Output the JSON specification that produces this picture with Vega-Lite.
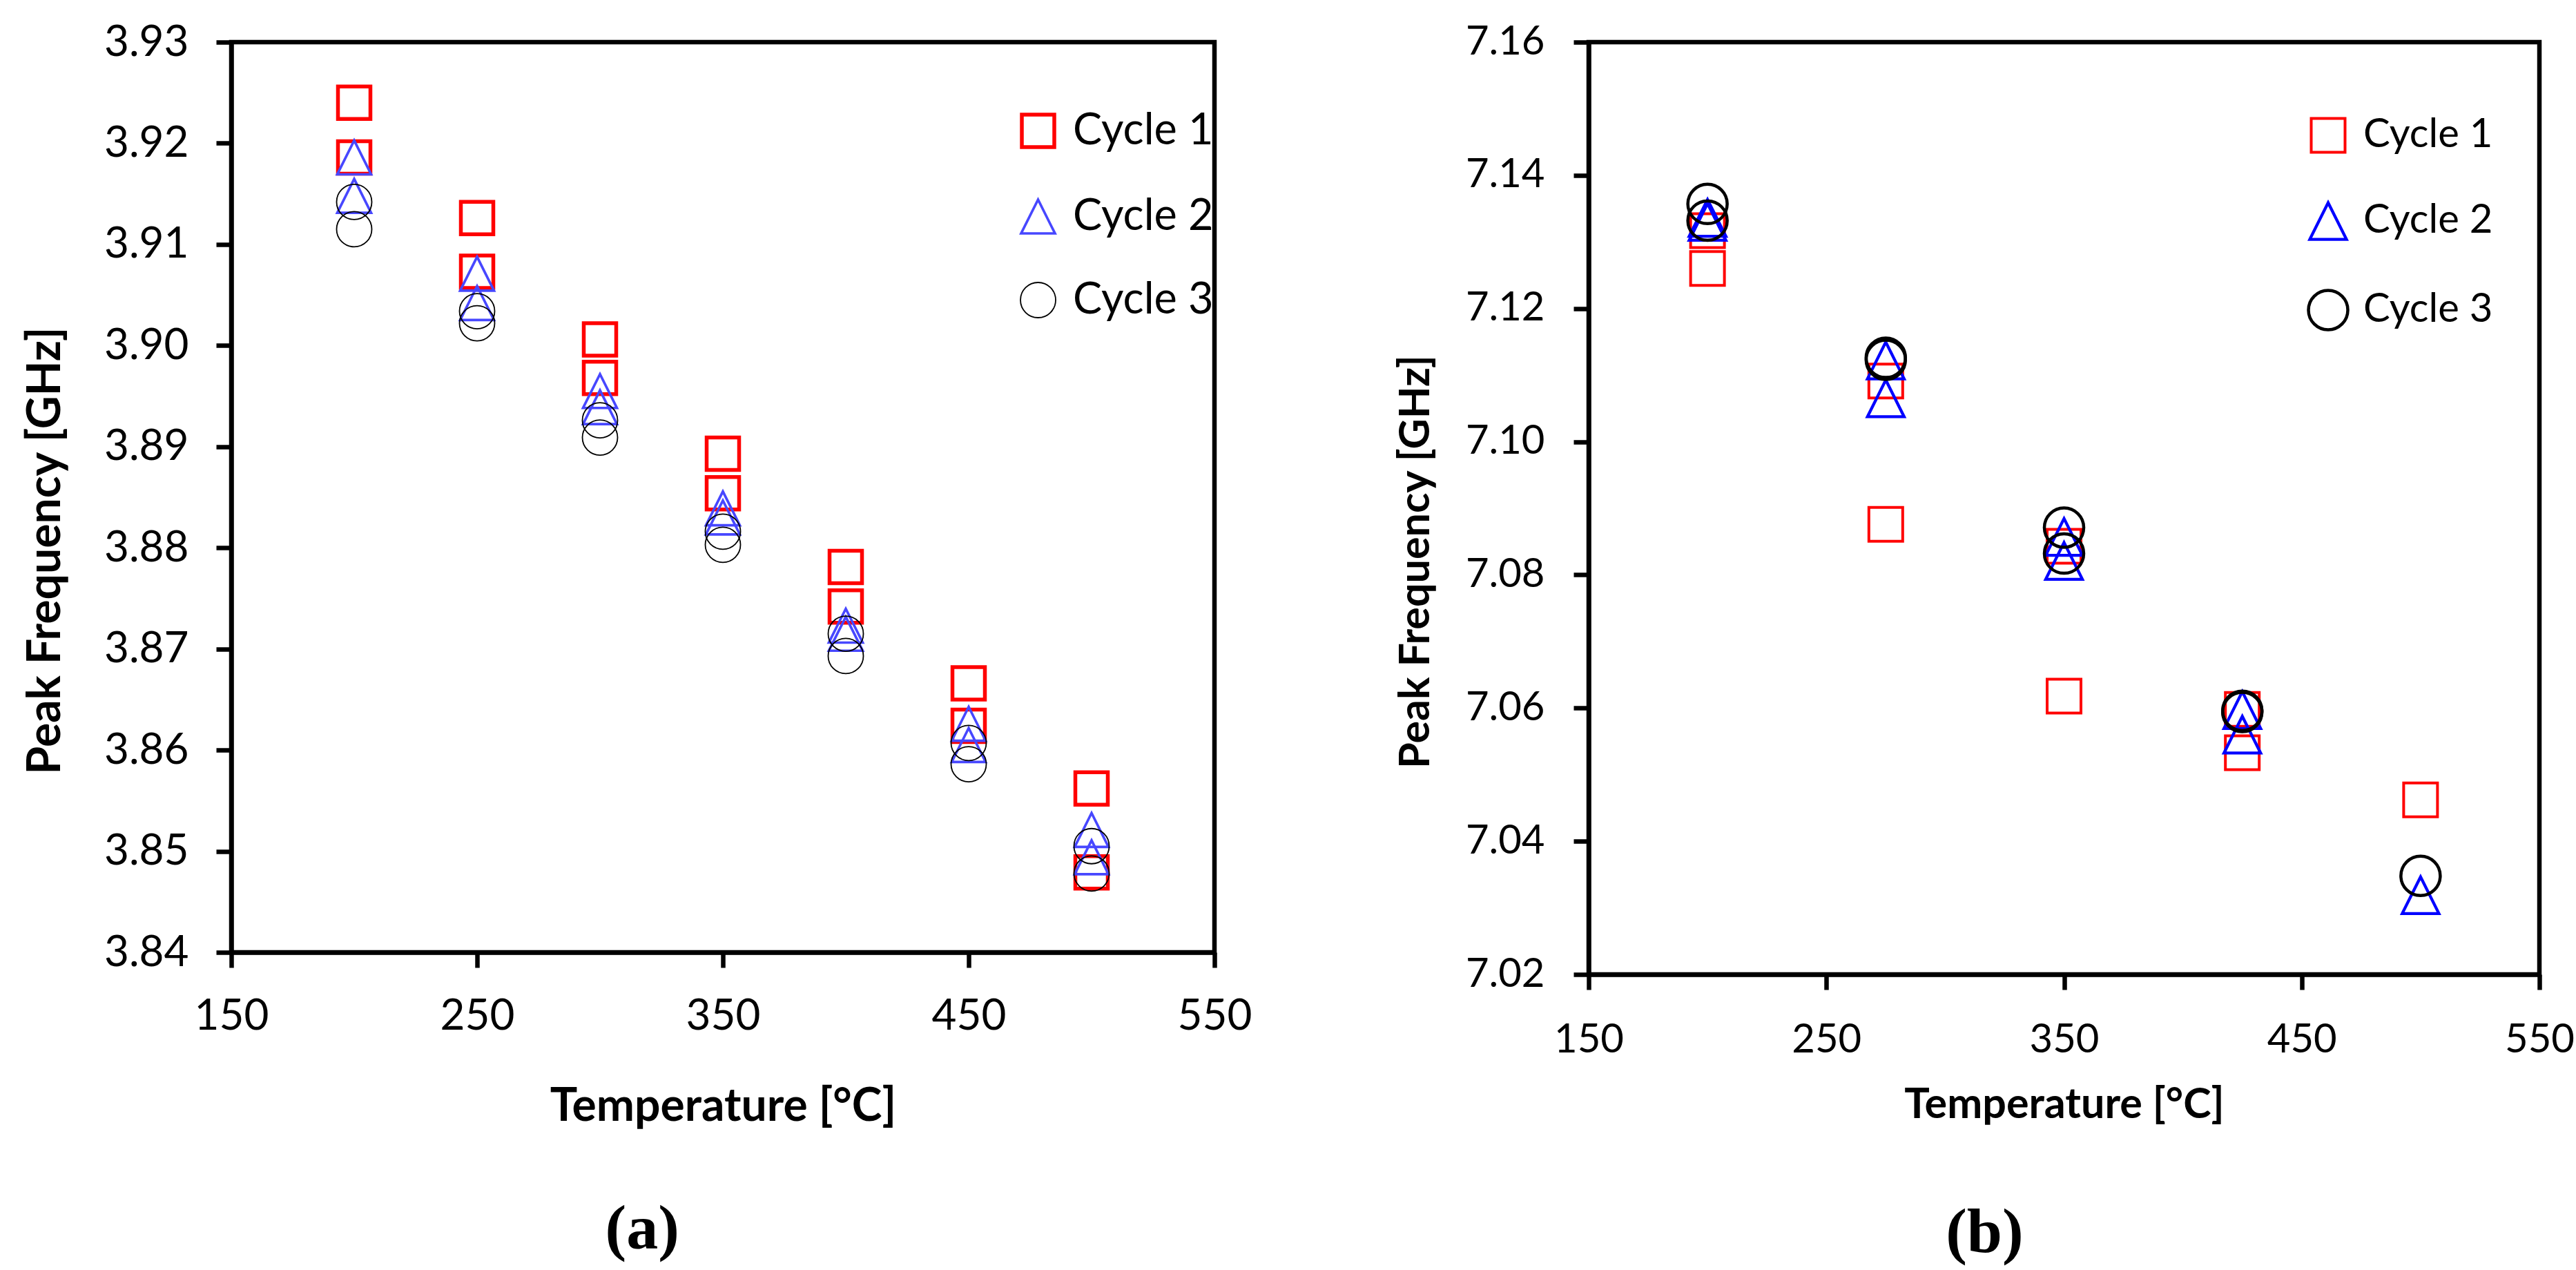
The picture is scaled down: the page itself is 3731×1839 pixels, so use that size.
{
  "$schema": "https://vega.github.io/schema/vega-lite/v6.json",
  "padding": {"left": 30, "top": 26, "right": 10, "bottom": 5},
  "background": "white",
  "config": {
    "font": "Lato",
    "view": {"stroke": "black", "strokeWidth": 6.5},
    "axis": {"grid": false, "domainColor": "black", "domainWidth": 6.5, "tickColor": "black", "tickWidth": 6.5, "tickSize": 22, "labelColor": "black", "titleColor": "black", "labelFlush": false, "labelOverlap": false, "labelBound": false, "titleFont": "Lato", "titleFontWeight": "bold", "labelFont": "Lato", "labelFontWeight": "normal"},
    "legend": {"labelColor": "black", "labelFont": "Lato", "labelLimit": 0, "title": null, "padding": 0, "symbolStrokeWidth": 2, "symbolFillColor": "transparent", "symbolOpacity": 1}
  },
  "datasets": {
    "a": [
      {"T": 200, "f": 3.9240, "cycle": "Cycle 1"}, {"T": 200, "f": 3.9186, "cycle": "Cycle 1"},
      {"T": 250, "f": 3.9126, "cycle": "Cycle 1"}, {"T": 250, "f": 3.9073, "cycle": "Cycle 1"},
      {"T": 300, "f": 3.9006, "cycle": "Cycle 1"}, {"T": 300, "f": 3.8968, "cycle": "Cycle 1"},
      {"T": 350, "f": 3.8893, "cycle": "Cycle 1"}, {"T": 350, "f": 3.8854, "cycle": "Cycle 1"},
      {"T": 400, "f": 3.8781, "cycle": "Cycle 1"}, {"T": 400, "f": 3.8742, "cycle": "Cycle 1"},
      {"T": 450, "f": 3.8666, "cycle": "Cycle 1"}, {"T": 450, "f": 3.8624, "cycle": "Cycle 1"},
      {"T": 500, "f": 3.8562, "cycle": "Cycle 1"}, {"T": 500, "f": 3.8479, "cycle": "Cycle 1"},
      {"T": 200, "f": 3.9186, "cycle": "Cycle 2"}, {"T": 200, "f": 3.9148, "cycle": "Cycle 2"},
      {"T": 250, "f": 3.9071, "cycle": "Cycle 2"}, {"T": 250, "f": 3.9042, "cycle": "Cycle 2"},
      {"T": 300, "f": 3.8955, "cycle": "Cycle 2"}, {"T": 300, "f": 3.8939, "cycle": "Cycle 2"},
      {"T": 350, "f": 3.8839, "cycle": "Cycle 2"}, {"T": 350, "f": 3.8830, "cycle": "Cycle 2"},
      {"T": 400, "f": 3.8723, "cycle": "Cycle 2"}, {"T": 400, "f": 3.8715, "cycle": "Cycle 2"},
      {"T": 450, "f": 3.8626, "cycle": "Cycle 2"}, {"T": 450, "f": 3.8605, "cycle": "Cycle 2"},
      {"T": 500, "f": 3.8521, "cycle": "Cycle 2"}, {"T": 500, "f": 3.8494, "cycle": "Cycle 2"},
      {"T": 200, "f": 3.9142, "cycle": "Cycle 3"}, {"T": 200, "f": 3.9115, "cycle": "Cycle 3"},
      {"T": 250, "f": 3.9034, "cycle": "Cycle 3"}, {"T": 250, "f": 3.9022, "cycle": "Cycle 3"},
      {"T": 300, "f": 3.8926, "cycle": "Cycle 3"}, {"T": 300, "f": 3.8909, "cycle": "Cycle 3"},
      {"T": 350, "f": 3.8816, "cycle": "Cycle 3"}, {"T": 350, "f": 3.8803, "cycle": "Cycle 3"},
      {"T": 400, "f": 3.8715, "cycle": "Cycle 3"}, {"T": 400, "f": 3.8693, "cycle": "Cycle 3"},
      {"T": 450, "f": 3.8607, "cycle": "Cycle 3"}, {"T": 450, "f": 3.8586, "cycle": "Cycle 3"},
      {"T": 500, "f": 3.8505, "cycle": "Cycle 3"}, {"T": 500, "f": 3.8478, "cycle": "Cycle 3"}
    ],
    "b": [
      {"T": 200, "f": 7.1317, "cycle": "Cycle 1"}, {"T": 200, "f": 7.1260, "cycle": "Cycle 1"},
      {"T": 275, "f": 7.1091, "cycle": "Cycle 1"}, {"T": 275, "f": 7.0876, "cycle": "Cycle 1"},
      {"T": 350, "f": 7.0843, "cycle": "Cycle 1"}, {"T": 350, "f": 7.0618, "cycle": "Cycle 1"},
      {"T": 425, "f": 7.0598, "cycle": "Cycle 1"}, {"T": 425, "f": 7.0533, "cycle": "Cycle 1"},
      {"T": 500, "f": 7.0462, "cycle": "Cycle 1"},
      {"T": 200, "f": 7.1336, "cycle": "Cycle 2"}, {"T": 200, "f": 7.1330, "cycle": "Cycle 2"},
      {"T": 275, "f": 7.1122, "cycle": "Cycle 2"}, {"T": 275, "f": 7.1065, "cycle": "Cycle 2"},
      {"T": 350, "f": 7.0857, "cycle": "Cycle 2"}, {"T": 350, "f": 7.0821, "cycle": "Cycle 2"},
      {"T": 425, "f": 7.0597, "cycle": "Cycle 2"}, {"T": 425, "f": 7.0560, "cycle": "Cycle 2"},
      {"T": 500, "f": 7.0319, "cycle": "Cycle 2"},
      {"T": 200, "f": 7.1357, "cycle": "Cycle 3"}, {"T": 200, "f": 7.1332, "cycle": "Cycle 3"},
      {"T": 275, "f": 7.1126, "cycle": "Cycle 3"}, {"T": 275, "f": 7.1123, "cycle": "Cycle 3"},
      {"T": 350, "f": 7.0871, "cycle": "Cycle 3"}, {"T": 350, "f": 7.0832, "cycle": "Cycle 3"},
      {"T": 425, "f": 7.0596, "cycle": "Cycle 3"}, {"T": 425, "f": 7.0594, "cycle": "Cycle 3"},
      {"T": 500, "f": 7.0348, "cycle": "Cycle 3"}
    ]
  },
  "resolve": {"scale": {"color": "independent", "shape": "independent", "size": "independent", "strokeWidth": "independent"}, "legend": {"color": "independent", "shape": "independent"}},
  "spacing": 200,
  "hconcat": [
    {
      "width": 1424,
      "height": 1318,
      "data": {"name": "a"},
      "title": {"text": "(a)", "orient": "bottom", "anchor": "middle", "frame": "bounds", "font": "Liberation Serif", "fontWeight": "bold", "fontSize": 92, "color": "black", "offset": 100, "dx": 7},
      "mark": {"type": "point", "filled": false, "opacity": 1},
      "encoding": {
        "x": {"field": "T", "type": "quantitative", "scale": {"domain": [150, 550], "nice": false, "zero": false},
          "axis": {"title": "Temperature [°C]", "values": [150, 250, 350, 450, 550], "labelFontSize": 62, "labelPadding": 40, "titleFontSize": 66, "titlePadding": 68}},
        "y": {"field": "f", "type": "quantitative", "scale": {"domain": [3.84, 3.93], "nice": false, "zero": false},
          "axis": {"title": "Peak Frequency [GHz]", "values": [3.84, 3.85, 3.86, 3.87, 3.88, 3.89, 3.9, 3.91, 3.92, 3.93], "format": ".2f", "labelFontSize": 62, "labelPadding": 40, "titleFontSize": 66, "titlePadding": 50, "titleY": 736}},
        "color": {"field": "cycle", "type": "nominal", "scale": {"domain": ["Cycle 1", "Cycle 2", "Cycle 3"], "range": ["#ff0000", "#4747ff", "#000000"]},
          "legend": {"orient": "none", "legendX": 1137, "legendY": 97, "symbolSize": 1760, "labelFontSize": 63, "rowPadding": 57, "labelOffset": 19}},
        "shape": {"field": "cycle", "type": "nominal", "scale": {"domain": ["Cycle 1", "Cycle 2", "Cycle 3"], "range": ["square", "M0,-1L1,1L-1,1Z", "circle"]},
          "legend": {"orient": "none", "legendX": 1137, "legendY": 97, "symbolSize": 1760, "labelFontSize": 63, "rowPadding": 57, "labelOffset": 19}},
        "size": {"field": "cycle", "type": "nominal", "scale": {"domain": ["Cycle 1", "Cycle 2", "Cycle 3"], "range": [2209, 2600, 2704]}, "legend": null},
        "strokeWidth": {"field": "cycle", "type": "nominal", "scale": {"domain": ["Cycle 1", "Cycle 2", "Cycle 3"], "range": [5.5, 1.8, 4.6]}, "legend": null}
      }
    },
    {
      "width": 1377,
      "height": 1350,
      "data": {"name": "b"},
      "title": {"text": "(b)", "orient": "bottom", "anchor": "middle", "frame": "bounds", "font": "Liberation Serif", "fontWeight": "bold", "fontSize": 92, "color": "black", "offset": 110, "dx": 0},
      "mark": {"type": "point", "filled": false, "opacity": 1},
      "encoding": {
        "x": {"field": "T", "type": "quantitative", "scale": {"domain": [150, 550], "nice": false, "zero": false},
          "axis": {"title": "Temperature [°C]", "values": [150, 250, 350, 450, 550], "labelFontSize": 58, "labelPadding": 44, "titleFontSize": 61, "titlePadding": 35}},
        "y": {"field": "f", "type": "quantitative", "scale": {"domain": [7.02, 7.16], "nice": false, "zero": false},
          "axis": {"title": "Peak Frequency [GHz]", "values": [7.02, 7.04, 7.06, 7.08, 7.1, 7.12, 7.14, 7.16], "format": ".2f", "labelFontSize": 58, "labelPadding": 42, "titleFontSize": 61, "titlePadding": 40, "titleY": 752}},
        "color": {"field": "cycle", "type": "nominal", "scale": {"domain": ["Cycle 1", "Cycle 2", "Cycle 3"], "range": ["#ff0000", "#0000ff", "#000000"]},
          "legend": {"orient": "none", "legendX": 1040, "legendY": 106, "symbolSize": 1370, "labelFontSize": 58, "rowPadding": 55, "labelOffset": 20}},
        "shape": {"field": "cycle", "type": "nominal", "scale": {"domain": ["Cycle 1", "Cycle 2", "Cycle 3"], "range": ["square", "M0,-1L1,1L-1,1Z", "circle"]},
          "legend": {"orient": "none", "legendX": 1040, "legendY": 106, "symbolSize": 1370, "labelFontSize": 58, "rowPadding": 55, "labelOffset": 20}},
        "size": {"field": "cycle", "type": "nominal", "scale": {"domain": ["Cycle 1", "Cycle 2", "Cycle 3"], "range": [2400, 3249, 3136]}, "legend": null},
        "strokeWidth": {"field": "cycle", "type": "nominal", "scale": {"domain": ["Cycle 1", "Cycle 2", "Cycle 3"], "range": [4, 4.5, 4]}, "legend": null}
      }
    }
  ]
}
